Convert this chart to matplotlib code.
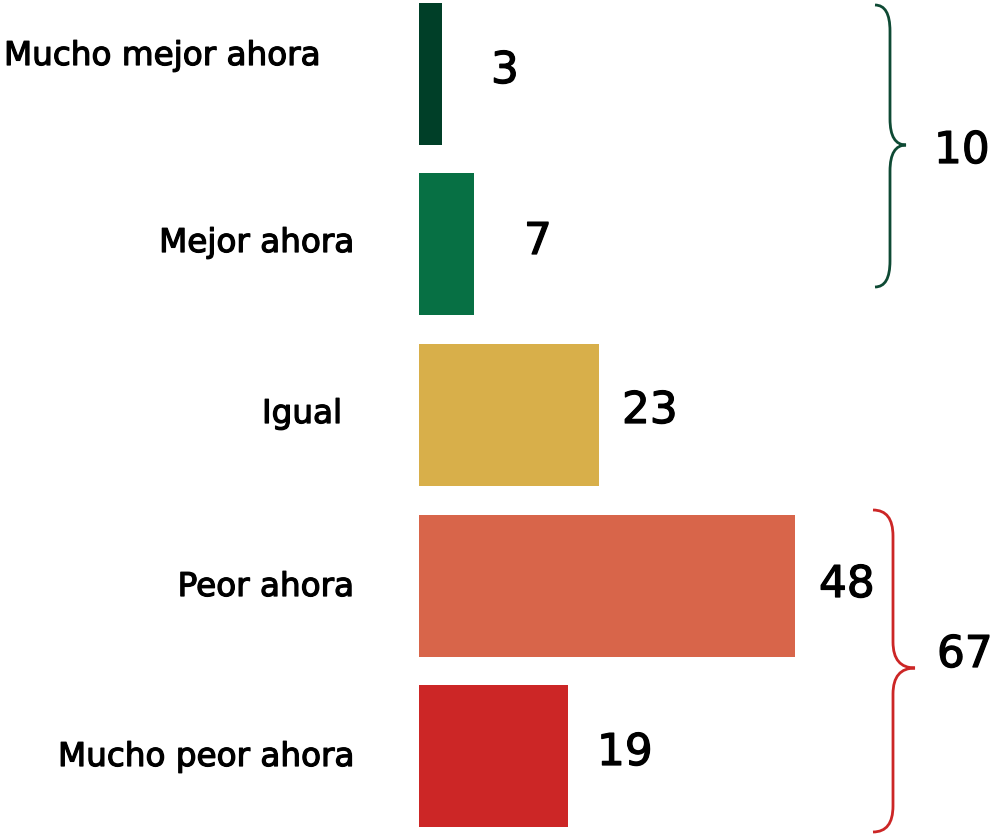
#!/usr/bin/env python3
"""
Horizontal bar chart: perception now vs before, with group braces
"""

import matplotlib
matplotlib.use('Agg')
import matplotlib.pyplot as plt
import matplotlib.patheffects as pe
from matplotlib.path import Path
from matplotlib.patches import PathPatch

# Data
categories = ['Mucho mejor ahora', 'Mejor ahora', 'Igual', 'Peor ahora', 'Mucho peor ahora']
values = [3, 7, 23, 48, 19]
colors = ['#003F28', '#077044', '#D8AF4A', '#D8654A', '#CC2626']
group_totals = [10, 67]
group_colors = ['#0E4A34', '#CC2626']

plt.rcParams['font.family'] = ['DejaVu Sans']

W, H = 993, 834
fig = plt.figure(figsize=(W / 100, H / 100), dpi=100)
ax = fig.add_axes([0, 0, 1, 1])

# pixel <-> data scale
x0_px = 419
sx = 7.83      # px per unit on x
sy = 170.5     # px per category step
y0_px = 74     # centre of first bar
ax.set_xlim(-x0_px / sx, (W - x0_px) / sx)
ax.set_ylim((H - y0_px) / sy, -y0_px / sy)
ax.axis('off')


def px_x(p):
    return (p - x0_px) / sx


def px_y(p):
    return (p - y0_px) / sy


# a touch heavier than regular, close to a medium weight
medium = [pe.withStroke(linewidth=0.9, foreground='black')]

ypos = list(range(len(categories)))
ax.barh(ypos, values, height=142 / sy, color=colors)

# category labels (first one is left aligned in the original)
label_x = [4, 354, 342, 354, 354]
label_base = [65, 252, 423, 596, 766]
for i, cat in enumerate(categories):
    ha = 'left' if i == 0 else 'right'
    ax.text(px_x(label_x[i]), px_y(label_base[i]), cat, ha=ha, va='baseline',
            fontsize=23.5, path_effects=medium)

# value labels
value_x = [491, 524, 622, 819, 597]
value_base = [83, 254, 423, 597, 765]
for i, v in enumerate(values):
    ax.text(px_x(value_x[i]), px_y(value_base[i]), str(v), ha='left', va='baseline',
            fontsize=31.5, path_effects=medium)


def brace(x_left, x_mid, x_tip, top, tip, bottom, color):
    """Draw a right facing curly brace; everything in px"""
    r = 26
    xl, xm, xt = px_x(x_left), px_x(x_mid), px_x(x_tip)
    yt, yp, yb = px_y(top), px_y(tip), px_y(bottom)
    dr = r / sy
    verts = [(xl, yt), (xm, yt), (xm, yt + dr),
             (xm, yp - dr), (xm, yp), (xt, yp),
             (xm, yp), (xm, yp + dr),
             (xm, yb - dr), (xm, yb), (xl, yb)]
    codes = [Path.MOVETO, Path.CURVE3, Path.CURVE3,
             Path.LINETO, Path.CURVE3, Path.CURVE3,
             Path.CURVE3, Path.CURVE3,
             Path.LINETO, Path.CURVE3, Path.CURVE3]
    ax.add_patch(PathPatch(Path(verts, codes), fill=False, edgecolor=color, linewidth=2))


brace(875, 890, 906, 5, 145, 287, group_colors[0])
brace(873, 893, 915, 510, 668, 832, group_colors[1])

ax.text(px_x(934), px_y(163), str(group_totals[0]), ha='left', va='baseline',
        fontsize=31.5, path_effects=medium)
ax.text(px_x(937), px_y(667), str(group_totals[1]), ha='left', va='baseline',
        fontsize=31.5, path_effects=medium)

plt.savefig('out.png', dpi=100)
